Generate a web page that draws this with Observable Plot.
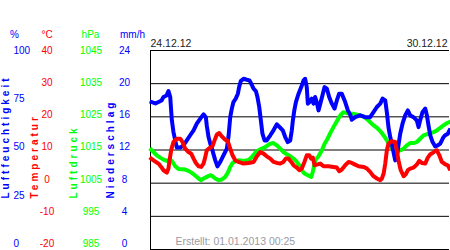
<!DOCTYPE html>
<html><head><meta charset="utf-8">
<script src="https://cdn.jsdelivr.net/npm/d3@7"></script>
<script src="https://cdn.jsdelivr.net/npm/@observablehq/plot@0.6"></script>
<style>
body{margin:0;background:#fff}
#chart{position:relative;width:450px;height:250px;overflow:hidden}
#chart svg{position:absolute;left:0;top:0}
</style>
</head><body><div id="chart"></div>
<script>
// ---- data (hours since 24.12.12 00:00) ----
const humHours=[0.6,2.8,4.5,6.2,7.3,9.0,10.1,11.1,11.6,12.0,12.9,13.9,14.8,16.7,18.5,20.4,22.3,24.2,26.0,27.9,29.8,31.1,31.6,32.6,33.5,34.8,36.4,37.6,39.2,41.0,42.9,43.8,44.8,45.7,46.6,47.9,49.1,49.8,50.7,52.3,54.1,55.6,56.6,57.9,59.2,60.1,61.1,62.0,62.9,64.1,65.3,67.3,69.1,71.0,72.9,74.3,75.7,77.1,78.5,79.4,80.0,80.8,81.7,83.2,84.7,86.0,86.9,87.8,88.4,89.3,90.6,91.6,92.5,93.4,94.4,95.4,96.6,97.8,99.1,100.4,101.9,103.4,104.7,106.0,107.5,109.4,110.9,112.4,113.1,115.0,117.8,120.6,123.4,125.3,127.2,129.1,130.4,131.9,132.8,133.7,134.7,135.6,136.5,137.5,138.4,139.3,140.3,141.6,143.1,144.6,145.9,147.8,149.6,150.6,151.5,152.8,154.4,155.3,156.2,157.2,158.5,160.0,161.4,162.8,163.7,164.6,165.6,167.1,168.0];
const humValues=[74.1,73.4,74.1,74.9,76.6,77.4,79.6,76.6,69.9,64.9,59.0,54.8,51.2,51.2,52.3,54.8,57.4,59.9,63.2,65.7,67.9,66.5,62.4,56.5,53.5,49.8,44.8,41.8,44.0,47.3,50.7,56.5,66.5,70.8,74.1,75.8,78.3,81.6,84.6,85.8,85.3,85.0,83.3,80.8,79.6,76.6,71.6,64.9,58.2,54.8,54.8,57.4,59.9,62.9,61.2,59.9,56.5,54.0,54.8,59.9,64.9,69.9,74.1,78.3,81.6,85.0,85.8,81.6,73.3,74.1,75.8,73.3,76.6,74.1,69.9,73.3,77.4,81.6,80.8,76.6,73.3,70.8,74.9,78.3,78.3,74.1,69.9,67.4,65.2,66.5,67.4,66.5,66.5,69.0,71.6,73.3,75.8,74.9,69.0,61.5,56.5,53.2,49.0,44.8,46.5,52.3,58.2,63.2,67.4,69.9,67.4,66.5,64.9,61.5,64.9,69.0,70.8,67.4,62.4,57.4,54.0,51.8,52.3,53.2,54.8,56.5,57.4,58.2,59.9];

const tempHours=[0.4,1.7,3.0,4.5,6.0,7.3,9.2,10.1,10.7,11.6,12.9,14.8,16.7,18.0,19.5,21.3,22.9,24.2,25.5,27.0,28.5,29.8,30.7,31.6,33.5,34.8,36.0,37.3,38.6,40.1,42.0,43.4,44.8,46.1,47.6,49.4,52.3,55.1,57.9,59.8,61.7,63.5,65.3,67.3,69.1,71.0,72.9,74.7,76.0,77.5,79.1,80.4,82.2,83.6,85.0,86.5,87.8,89.2,90.3,91.2,92.2,93.4,95.4,97.2,100.0,102.8,104.7,106.0,107.5,109.4,111.3,113.1,115.0,116.9,119.7,121.6,123.4,125.3,127.2,129.1,130.0,131.0,131.9,132.8,133.7,135.6,137.5,138.4,139.3,140.6,142.2,143.4,144.6,145.9,147.8,149.6,151.0,152.5,154.4,155.8,157.2,158.5,160.0,160.9,162.3,163.7,165.6,167.1,168.0];
const tempValues=[7.4,6.9,6.4,5.9,4.9,3.9,3.2,4.4,6.9,9.9,12.4,13.4,13.4,12.4,10.4,9.4,8.9,7.4,6.1,5.1,4.9,5.9,7.7,9.9,10.7,11.1,12.9,14.7,15.1,14.1,13.1,12.7,10.4,8.4,6.9,6.4,5.9,6.1,6.4,8.1,9.4,8.9,8.1,7.4,6.4,6.1,5.9,6.4,7.4,7.4,6.4,5.4,4.7,3.9,4.4,6.4,8.4,8.4,7.4,7.7,5.4,5.6,5.9,5.1,5.1,4.9,4.7,3.6,4.1,5.4,6.4,6.1,5.6,5.1,4.9,4.4,3.4,2.1,1.4,0.9,1.4,2.9,5.9,9.9,11.9,12.7,12.4,9.9,6.9,3.9,2.1,2.7,3.9,4.4,4.7,5.6,6.7,6.1,5.9,7.7,8.7,9.1,9.7,9.9,8.4,6.4,5.7,5.4,4.4];

const pressHours=[0.4,1.7,3.5,5.4,7.3,9.2,11.1,12.4,13.9,15.7,17.6,19.5,21.3,23.2,25.1,27.0,28.5,29.8,31.6,33.5,34.8,36.4,38.2,40.1,42.0,43.4,44.8,46.1,48.0,49.8,52.3,55.1,57.0,59.2,61.7,64.5,67.3,69.1,71.0,72.9,74.7,76.6,78.5,80.4,82.2,83.6,85.0,86.5,88.4,90.3,91.2,92.5,94.4,96.3,97.8,99.5,101.0,102.8,104.7,106.6,108.4,110.3,111.8,114.1,116.9,119.7,122.5,124.7,127.2,129.1,131.0,132.8,134.7,136.5,138.4,140.3,142.2,144.0,145.9,147.8,149.6,151.5,153.4,156.2,159.0,160.9,162.8,164.6,166.5,168.0];
const pressValues=[1015.1,1014.4,1013.4,1012.7,1012.1,1011.7,1012.1,1011.4,1010.1,1009.3,1009.2,1009.1,1008.7,1008.1,1007.3,1006.4,1005.9,1006.4,1006.9,1007.4,1007.1,1006.4,1005.9,1006.1,1006.9,1008.1,1009.9,1011.1,1011.7,1011.9,1011.7,1012.0,1012.9,1014.4,1015.2,1015.9,1016.9,1017.1,1016.4,1015.4,1014.4,1013.7,1013.1,1012.4,1011.4,1010.4,1008.9,1007.9,1007.4,1006.9,1008.4,1011.9,1013.1,1014.9,1016.9,1018.4,1020.1,1021.9,1023.7,1025.4,1026.4,1026.1,1026.0,1025.9,1025.6,1025.1,1023.9,1022.7,1021.7,1020.7,1019.4,1017.9,1016.1,1015.1,1014.6,1014.9,1015.4,1016.4,1017.1,1017.1,1017.4,1018.4,1019.4,1019.9,1020.4,1020.9,1021.7,1022.4,1023.1,1023.4];

const humTicks=[0,25,50,75,100];
const tempTicks=[-20,-10,0,10,20,30,40];
const pressTicks=[985,995,1005,1015,1025,1035,1045];
const rainTicks=[0,4,8,12,16,20,24];
const gridTemps=[-10,0,10,20,30];
const startLabel="24.12.12", endLabel="30.12.12";
const createdLabel="Erstellt: 01.01.2013 00:25";

// ---- layout helpers ----
const BLUE="#0000ff", RED="#ff0000", GREEN="#00ff00";
const font="'Liberation Sans', Arial, sans-serif";
const chart=document.getElementById("chart");
function layer(opts, spacing){
  const svg=Plot.plot({width:450,height:250,
    style:{background:"transparent",fontFamily:font,fontSize:"10px",overflow:"visible"},...opts});
  if(spacing) svg.querySelectorAll("text").forEach(t=>{ if(spacing[t.textContent]!=null) t.style.letterSpacing=spacing[t.textContent]+"px"; });
  chart.appendChild(svg); return svg;
}
const frameM={marginTop:50,marginBottom:1,marginLeft:150,marginRight:1};
const xs={domain:[0,168],axis:null};
const rows=(hs,vs)=>hs.map((h,i)=>({h,v:vs[i]}));
const lineOpts=c=>({x:"h",y:"v",stroke:c,strokeWidth:4,strokeLinejoin:"round",strokeLinecap:"square"});

// grid + frame + texts
layer({...frameM,x:xs,y:{domain:[-20,40],axis:null},marks:[
  Plot.ruleY(gridTemps,{stroke:"#000"}),
  Plot.ruleY([40,-20],{stroke:"#000"}),
  Plot.ruleX([0],{stroke:"#000"}),
  Plot.text([startLabel],{text:d=>d,frameAnchor:"top-left",textAnchor:"start",lineAnchor:"bottom",dy:-3.3,fill:"#222",fontSize:10.5}),
  Plot.text([endLabel],{text:d=>d,frameAnchor:"top-right",textAnchor:"end",lineAnchor:"bottom",dy:-3.3,dx:-2,fill:"#222",fontSize:10.5}),
  Plot.text([createdLabel],{text:d=>d,frameAnchor:"bottom-left",textAnchor:"start",lineAnchor:"bottom",dx:25,dy:-5,fill:"#9a9aa2",fontSize:10.5})
]});
// data lines
layer({...frameM,x:xs,y:{domain:[985,1045],axis:null},marks:[Plot.line(rows(pressHours,pressValues),lineOpts(GREEN))]});
layer({...frameM,x:xs,y:{domain:[0,100],axis:null},marks:[Plot.line(rows(humHours,humValues),lineOpts(BLUE))]});
layer({...frameM,x:xs,y:{domain:[-20,40],axis:null},marks:[Plot.line(rows(tempHours,tempValues),lineOpts(RED))]});

// left axis columns
function column(colX, domain, ticks, color, anchor, header, headerDx, label, labelDx){
  layer({marginTop:50,marginBottom:6.7,marginLeft:colX,marginRight:0,
    y:{domain},
    marks:[
      Plot.axisY({ticks,tickSize:0,tickPadding:0,textAnchor:anchor,color,label:null,tickFormat:d=>String(d),fontSize:10}),
      Plot.text([header],{text:d=>d,frameAnchor:"top-left",textAnchor:"middle",dx:headerDx,dy:-19.3,fill:color,fontSize:10}),
      Plot.text([label],{text:d=>d,frameAnchor:"bottom-left",rotate:-90,textAnchor:"start",lineAnchor:"bottom",dx:labelDx,dy:-45.3,fill:color,fontSize:10,fontWeight:"bold"})
    ]}, {[label]:3});
}
column(13,[0,100],humTicks,BLUE,"start","%",1,"Luftfeuchtigkeit",-4.5);
column(46.5,[-20,40],tempTicks,RED,"middle","°C",0,"Temperatur",-9.5);
column(90.5,[985,1045],pressTicks,GREEN,"middle","hPa",-0.5,"Luftdruck",-14.5);
column(124,[0,24],rainTicks,BLUE,"middle","mm/h",8,"Niederschlag",-10.5);
</script></body></html>
